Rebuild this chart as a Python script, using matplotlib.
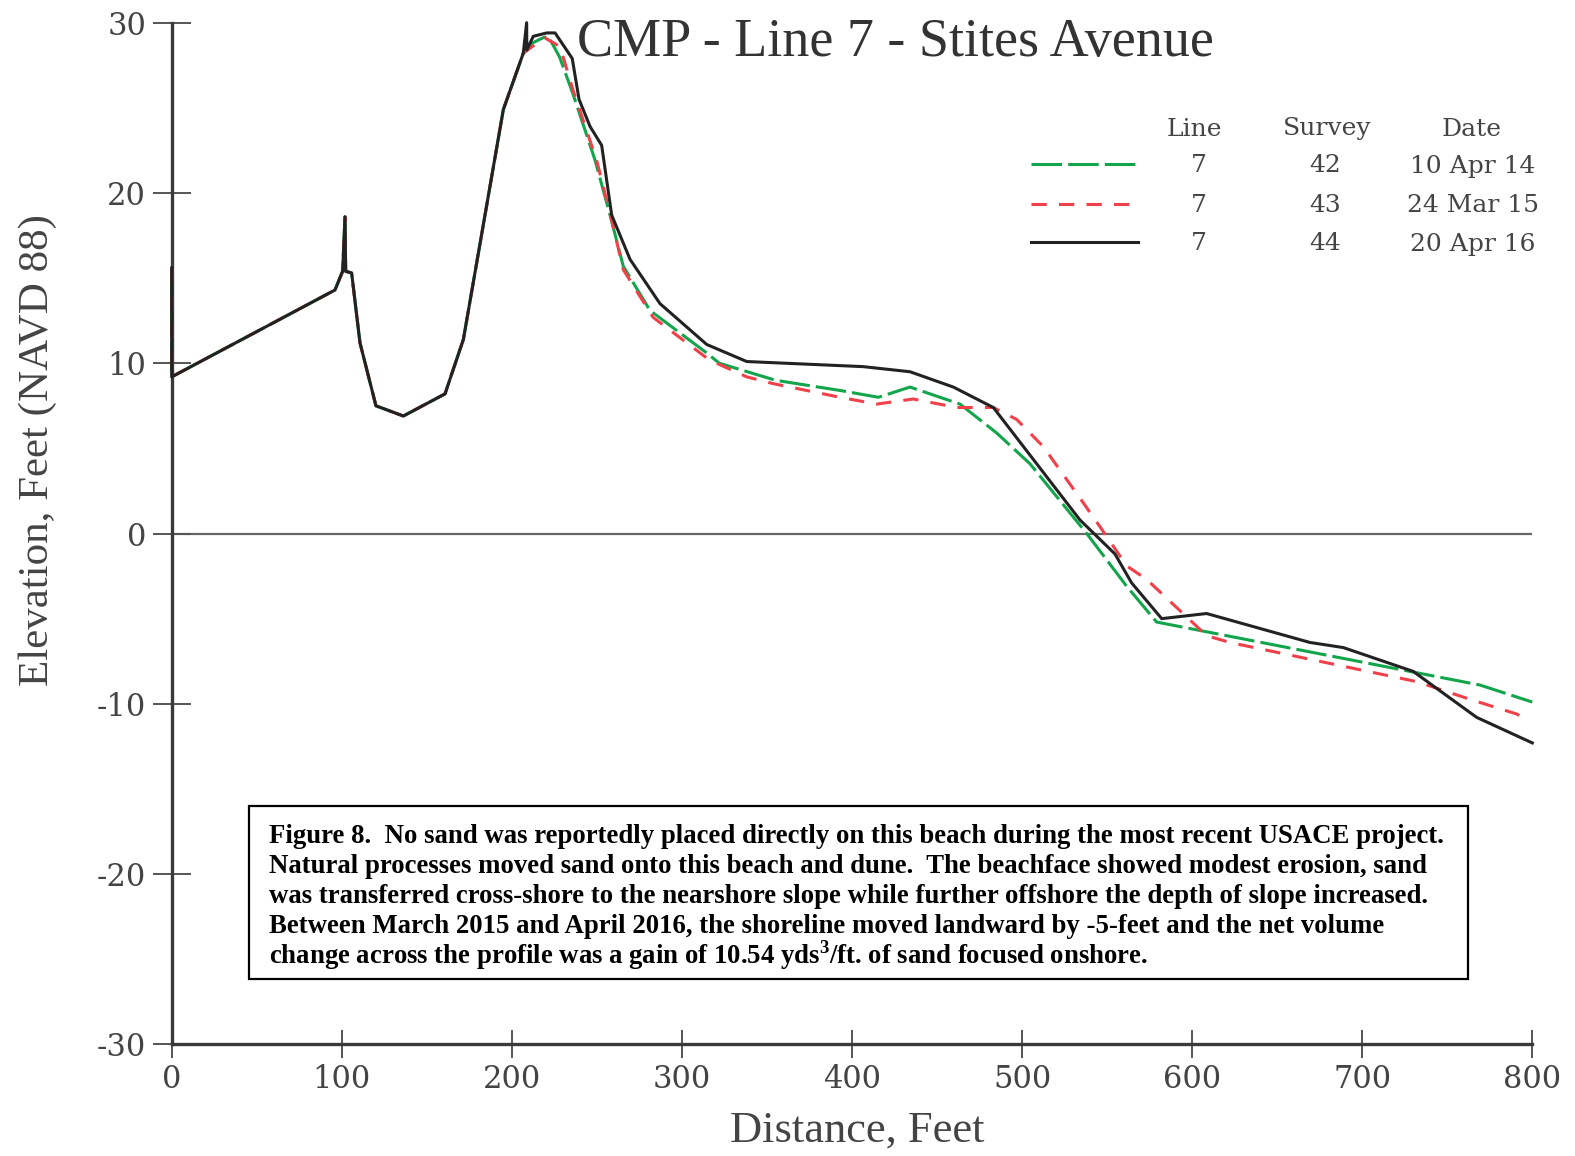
import numpy as np
import matplotlib.pyplot as plt
from matplotlib.lines import Line2D
from matplotlib.patches import Rectangle

plt.rcParams['mathtext.fontset'] = 'custom'
plt.rcParams['mathtext.rm'] = 'Liberation Serif:bold'
plt.rcParams['mathtext.bf'] = 'Liberation Serif:bold'

# profiles: distance (ft), elevation (ft NAVD 88)
# landward part is the same for all three surveys
x_common = [0, 0, 96, 100.5, 101.9, 102.3, 105.8, 110.7, 120.1, 136.2, 160.7, 171.5, 195, 206.7]
y_common = [15.6, 9.2, 14.3, 15.4, 18.6, 15.4, 15.3, 11.2, 7.5, 6.9, 8.2, 11.4, 24.9, 28.2]

x_s42 = [212, 218, 221.4, 228, 236, 249, 258, 265.5, 281.2, 314.6, 322, 355, 393, 415.5,
         434.1, 463.5, 485.1, 504.6, 538, 561.5, 579.1, 769.2, 800]
y_s42 = [28.8, 29.1, 29.2, 28.0, 25.8, 21.9, 18.6, 15.7, 13.1, 10.6, 10.0, 9.0, 8.4, 8.0,
         8.6, 7.6, 5.9, 4.1, 0.0, -3.1, -5.2, -8.9, -9.9]

x_s43 = [212, 219.5, 228.3, 236.1, 249.9, 258.7, 265.5, 283, 316, 338.1, 353.7, 393, 414.5,
         436, 461.5, 483.1, 496.8, 512.5, 536, 545.8, 561.5, 573.3, 608.5, 622.2, 732, 765.3,
         790.8, 798]
y_s43 = [28.6, 29.1, 28.6, 26.0, 21.9, 18.4, 15.5, 12.7, 10.2, 9.2, 8.8, 8.0, 7.6,
         7.9, 7.4, 7.4, 6.7, 5.1, 1.8, 0.4, -1.9, -2.7, -6.0, -6.4, -8.7, -9.8,
         -10.6, -11.0]

x_s44 = [208.7, 208.8, 212.6, 220.5, 225.4, 235.5, 239.5, 246, 252.8, 258.7, 269.5, 287.1,
         314.6, 338.1, 406.6, 434.1, 459.6, 483.1, 534, 554.6, 564.4, 582.1, 608.5, 669.3,
         688.9, 730, 767.3, 800]
y_s44 = [30.0, 28.4, 29.2, 29.4, 29.4, 27.9, 25.5, 23.9, 22.8, 18.7, 16.1, 13.5,
         11.1, 10.1, 9.8, 9.5, 8.6, 7.4, 0.8, -1.2, -2.9, -5.0, -4.7, -6.4,
         -6.7, -8.1, -10.8, -12.3]

x_ticks = [0, 100, 200, 300, 400, 500, 600, 700, 800]
y_ticks = [-30, -20, -10, 0, 10, 20, 30]
y_tick_labels = ['-30', '-20', '-10', '0', '10', '20', '30']

leg_line = ['7', '7', '7']
leg_survey = ['42', '43', '44']
leg_date = ['10 Apr 14', '24 Mar 15', '20 Apr 16']

title = 'CMP - Line 7 - Stites Avenue'
caption = [
    'Figure 8.  No sand was reportedly placed directly on this beach during the most recent USACE project.',
    'Natural processes moved sand onto this beach and dune.  The beachface showed modest erosion, sand',
    'was transferred cross-shore to the nearshore slope while further offshore the depth of slope increased.',
    'Between March 2015 and April 2016, the shoreline moved landward by -5-feet and the net volume',
    'change across the profile was a gain of 10.54 yds$^3$/ft. of sand focused onshore.',
]

W, H = 1575, 1156
fx = lambda px: px / W
fy = lambda py: 1 - py / H

green = '#13a54b'
red = '#f0404a'
black = '#222222'
styles = [
    dict(color=green, lw=2.2, dashes=(10, 2)),
    dict(color=red, lw=2.2, dashes=(5, 4)),
    dict(color=black, lw=2.2),
]

fig = plt.figure(figsize=(15.75, 11.56), dpi=100)
ax = fig.add_axes([fx(171.7), fy(1044.3), fx(1532.3) - fx(171.7), fy(22.7) - fy(1044.3)])

ax.axhline(0, color='#666666', lw=1.6, zorder=1)

ax.plot(x_common + x_s42, y_common + y_s42, clip_on=False, zorder=2, **styles[0])
ax.plot(x_common + x_s43, y_common + y_s43, clip_on=False, zorder=3, **styles[1])
ax.plot(x_common + x_s44, y_common + y_s44, clip_on=False, zorder=4, **styles[2])

ax.set_xlim(0, 800)
ax.set_ylim(-30, 30)
for s in ['top', 'right']:
    ax.spines[s].set_visible(False)
for s in ['left', 'bottom']:
    ax.spines[s].set_color('#3a3a3a')
    ax.spines[s].set_linewidth(2.4)

ax.set_xticks(x_ticks)
ax.set_xticklabels([str(v) for v in x_ticks])
ax.set_yticks(y_ticks)
ax.set_yticklabels(y_tick_labels)
ax.tick_params(axis='y', direction='inout', length=27, width=1.4, color='#555555', pad=5)
ax.tick_params(axis='x', direction='inout', length=20, width=1.4, color='#555555', pad=4)
for lab in ax.get_xticklabels() + ax.get_yticklabels():
    lab.set_fontfamily('DejaVu Serif')
    lab.set_fontsize(22)
    lab.set_color('#444444')

fig.text(fx(895), fy(43), title, ha='center', va='center', fontsize=39,
         family='Liberation Serif', color='#333333')
fig.text(fx(857), fy(1131), 'Distance, Feet', ha='center', va='center', fontsize=32,
         family='Liberation Serif', color='#444444')
fig.text(fx(38), fy(450), 'Elevation, Feet (NAVD 88)', ha='center', va='center', rotation=90,
         fontsize=31, family='Liberation Serif', color='#444444')

# legend table
fig.text(fx(1194), fy(129), 'Line', ha='center', va='center', fontsize=18, family='DejaVu Serif', color='#444444')
fig.text(fx(1327), fy(129), 'Survey', ha='center', va='center', fontsize=18, family='DejaVu Serif', color='#444444')
fig.text(fx(1472), fy(129), 'Date', ha='center', va='center', fontsize=18, family='DejaVu Serif', color='#444444')
row_y = [166, 206, 244]
for i in range(3):
    fig.add_artist(Line2D([fx(1031), fx(1138)], [fy(row_y[i] - 2), fy(row_y[i] - 2)],
                          transform=fig.transFigure, **styles[i]))
    fig.text(fx(1199), fy(row_y[i]), leg_line[i], ha='center', va='center', fontsize=18,
             family='DejaVu Serif', color='#444444')
    fig.text(fx(1325), fy(row_y[i]), leg_survey[i], ha='center', va='center', fontsize=18,
             family='DejaVu Serif', color='#444444')
    fig.text(fx(1473), fy(row_y[i]), leg_date[i], ha='center', va='center', fontsize=18,
             family='DejaVu Serif', color='#444444')

# caption box
fig.add_artist(Rectangle((fx(249), fy(979)), fx(1468) - fx(249), fy(806) - fy(979),
                         transform=fig.transFigure, fill=False, ec='black', lw=1.6))
for i, line in enumerate(caption):
    fig.text(fx(269), fy(843 + 30.1 * i), line, ha='left', va='baseline', fontsize=19.3,
             family='Liberation Serif', weight='bold', color='black')

fig.savefig('out.png', dpi=100)
